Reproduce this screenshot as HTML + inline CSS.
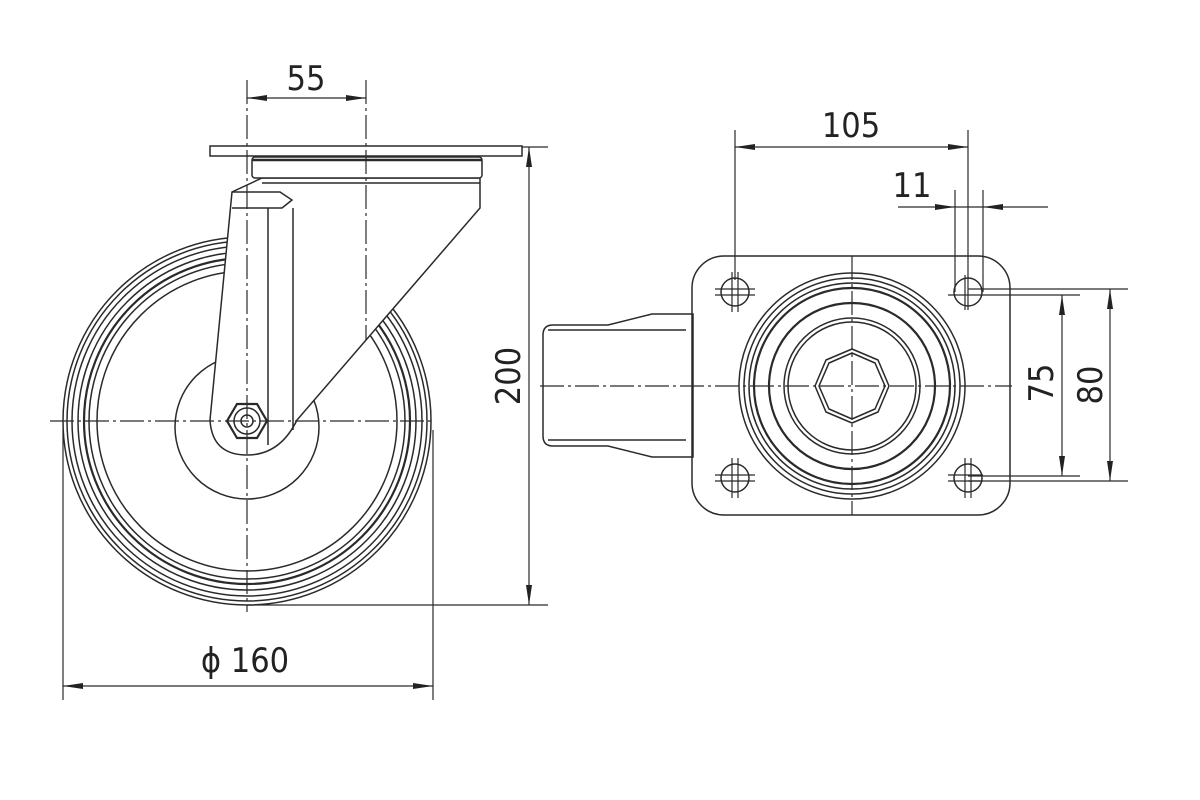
<!DOCTYPE html>
<html><head><meta charset="utf-8"><style>
html,body{margin:0;padding:0;background:#fff;}
svg{display:block;}
text{font-family:"DejaVu Sans Condensed","Liberation Sans Narrow","Liberation Sans",sans-serif;fill:#222;}
</style></head><body>
<svg width="1200" height="800" viewBox="0 0 1200 800" xmlns="http://www.w3.org/2000/svg">
<defs>
<marker id="a" viewBox="0 0 20 8" refX="20" refY="4" markerWidth="20" markerHeight="8" markerUnits="userSpaceOnUse" orient="auto-start-reverse"><path d="M0,1 L20,4 L0,7 Z" fill="#222"/></marker>
</defs>
<g fill="none" stroke="#2a2a2a" stroke-width="1.5">
<circle cx="247" cy="421" r="184"/>
<circle cx="247" cy="421" r="180"/>
<circle cx="247" cy="421" r="175"/>
<circle cx="247" cy="421" r="169"/>
<circle cx="247" cy="421" r="163" stroke-width="2.2"/>
<circle cx="247" cy="421" r="158"/>
<circle cx="247" cy="421" r="150"/>
<circle cx="247" cy="427" r="72"/>
<path d="M232,192 L210,420 Q212,455 247,455 Q280,455 297,420 L480,208 L480,178 L262,178 Z" fill="#fff"/>
<line x1="268" y1="208" x2="268" y2="445"/>
<line x1="293" y1="208" x2="293" y2="430"/>
<path d="M232,192 L280,192 L292,200 L282,208 L232,208"/>
<path d="M262,183 L480,183"/>
<rect x="252" y="157" width="230" height="21" rx="3" fill="#fff"/>
<line x1="252" y1="160" x2="482" y2="160" stroke-width="2.5"/>
<rect x="210" y="146" width="312" height="10" fill="#fff"/>
<polygon points="267,421 257,438 237,438 227,421 237,404 257,404" stroke-width="2.2"/>
<circle cx="247" cy="421" r="13"/>
<circle cx="247" cy="421" r="6"/>
<g stroke-dasharray="24,4,3,4" stroke-width="1.2">
<line x1="50" y1="421" x2="433" y2="421"/>
<line x1="247" y1="80" x2="247" y2="612"/>
<line x1="366" y1="80" x2="366" y2="340"/>
</g>
<g stroke-width="1.2">
<line x1="247" y1="98" x2="366" y2="98" marker-start="url(#a)" marker-end="url(#a)"/>
<line x1="522" y1="147" x2="548" y2="147"/>
<line x1="247" y1="605" x2="548" y2="605"/>
<line x1="529" y1="147" x2="529" y2="605" marker-start="url(#a)" marker-end="url(#a)"/>
<line x1="63" y1="430" x2="63" y2="700"/>
<line x1="433" y1="430" x2="433" y2="700"/>
<line x1="63" y1="686" x2="433" y2="686" marker-start="url(#a)" marker-end="url(#a)"/>
</g>

<path d="M543,335 Q543,325 553,325 L608,325 L652,314 L693,314 L693,457 L652,457 L608,446 L553,446 Q543,446 543,436 Z"/>
<line x1="548" y1="330" x2="686" y2="330"/>
<line x1="548" y1="440" x2="686" y2="440"/>
<rect x="692" y="256" width="318" height="259" rx="32"/>
<circle cx="852" cy="386" r="113"/>
<circle cx="852" cy="386" r="108"/>
<circle cx="852" cy="386" r="103"/>
<circle cx="852" cy="386" r="98" stroke-width="2.2"/>
<circle cx="852" cy="386" r="83" stroke-width="2.2"/>
<circle cx="852" cy="386" r="68"/>
<circle cx="852" cy="386" r="64"/>
<polygon points="889,386 878,412 852,423 826,412 815,386 826,360 852,349 878,360"/>
<polygon points="885,386 875,409 852,419 829,409 819,386 829,363 852,353 875,363"/>
<circle cx="735" cy="292" r="14"/>
<circle cx="968" cy="292" r="14"/>
<circle cx="735" cy="478" r="14"/>
<circle cx="968" cy="478" r="14"/>
<g stroke-width="1.2">
<path d="M715,289h40M715,295h40M732,272v40M738,272v40"/>
<path d="M715,475h40M715,481h40M732,458v40M738,458v40"/>
<path d="M948,475h35M948,481h35M965,458v40M971,458v40"/>
<path d="M948,295h20M965,275v35"/>
</g>
<g stroke-dasharray="24,4,3,4" stroke-width="1.2">
<line x1="540" y1="386" x2="1012" y2="386"/>
<line x1="852" y1="256" x2="852" y2="515"/>
</g>
<g stroke-width="1.2">
<line x1="735" y1="130" x2="735" y2="280"/>
<line x1="968" y1="130" x2="968" y2="310"/>
<line x1="735" y1="147" x2="968" y2="147" marker-start="url(#a)" marker-end="url(#a)"/>
<line x1="955" y1="190" x2="955" y2="292"/>
<line x1="983" y1="190" x2="983" y2="292"/>
<line x1="898" y1="207" x2="955" y2="207" marker-end="url(#a)"/>
<line x1="1048" y1="207" x2="983" y2="207" marker-end="url(#a)"/>
<line x1="955" y1="207" x2="983" y2="207"/>
<line x1="968" y1="295" x2="1080" y2="295"/>
<line x1="968" y1="476" x2="1080" y2="476"/>
<line x1="1062" y1="295" x2="1062" y2="476" marker-start="url(#a)" marker-end="url(#a)"/>
<line x1="968" y1="289" x2="1128" y2="289"/>
<line x1="968" y1="481" x2="1128" y2="481"/>
<line x1="1110" y1="289" x2="1110" y2="481" marker-start="url(#a)" marker-end="url(#a)"/>
</g>
</g>
<g font-size="34">
<text x="306" y="90" text-anchor="middle">55</text>
<text x="851" y="137" text-anchor="middle">105</text>
<text x="912" y="197" text-anchor="middle">11</text>
<text x="245" y="672" text-anchor="middle">ϕ 160</text>
<text transform="translate(520,376) rotate(-90)" text-anchor="middle">200</text>
<text transform="translate(1053,383) rotate(-90)" text-anchor="middle">75</text>
<text transform="translate(1102,385) rotate(-90)" text-anchor="middle">80</text>
</g>
</svg>
</body></html>
